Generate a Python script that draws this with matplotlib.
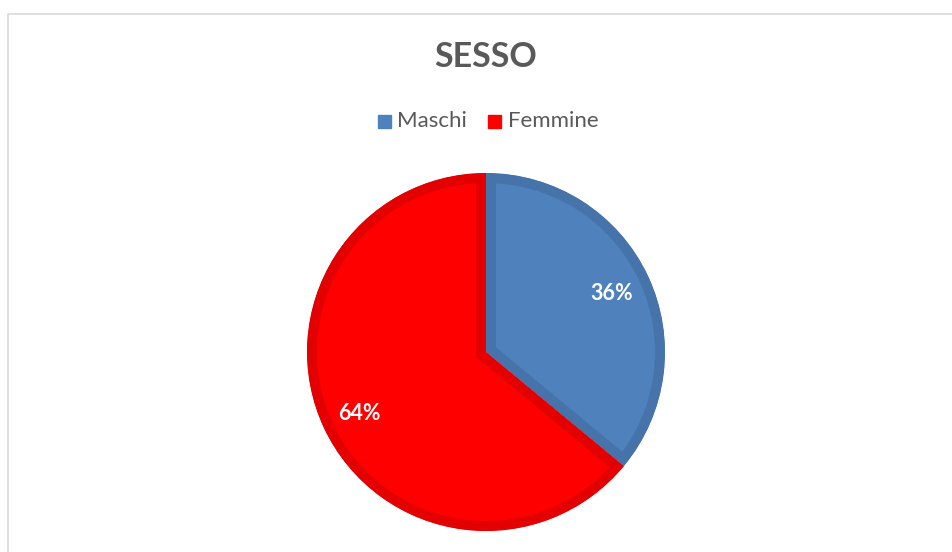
import matplotlib
matplotlib.use("Agg")
import matplotlib.pyplot as plt
from matplotlib.patches import Rectangle

title = "SESSO"
categories = ["Maschi", "Femmine"]
values = [36, 64]
labels = ["36%", "64%"]
fill_colors = ["#4f81bd", "#ff0000"]
edge_colors = ["#4673aa", "#e30000"]

W, H = 952, 552
fig = plt.figure(figsize=(W / 100, H / 100), dpi=100)
ax = fig.add_axes([0, 0, 1, 1])

cx, cy, r = 486, H - 352, 179
wedges, _ = ax.pie(values, colors=fill_colors, startangle=90, counterclock=False,
                   center=(cx, cy), radius=r,
                   wedgeprops=dict(linewidth=14.4))
for w, ec in zip(wedges, edge_colors):
    w.set_edgecolor(ec)
    w.set_clip_on(True)
    w.set_clip_path(w)

ax.set_xlim(0, W)
ax.set_ylim(0, H)
ax.set_aspect("equal")
ax.axis("off")

# label positions (pixel coordinates)
label_pos = [(612, 293), (359, 413)]
for (lx, ly), t in zip(label_pos, labels):
    ax.text(lx, H - ly, t, ha="center", va="center", color="white",
            fontsize=15.5, fontweight="bold", family="Lato")

ax.text(486, H - 57, title, ha="center", va="center", color="#595959",
        fontsize=24.5, fontweight="bold", family="Lato")

# legend
leg_items = [(378, 397), (488, 508)]
for (mx, tx), c, name in zip(leg_items, fill_colors, categories):
    ax.add_patch(Rectangle((mx, H - 128), 13, 13, color=c))
    ax.text(tx, H - 121, name, ha="left", va="center", color="#595959",
            fontsize=16, family="Lato")

# border
ax.plot([7.5, 7.5, W + 5], [-5, H - 13.5, H - 13.5], color="#d9d9d9",
        linewidth=1.2, clip_on=False)

fig.savefig("out.png", dpi=100)
